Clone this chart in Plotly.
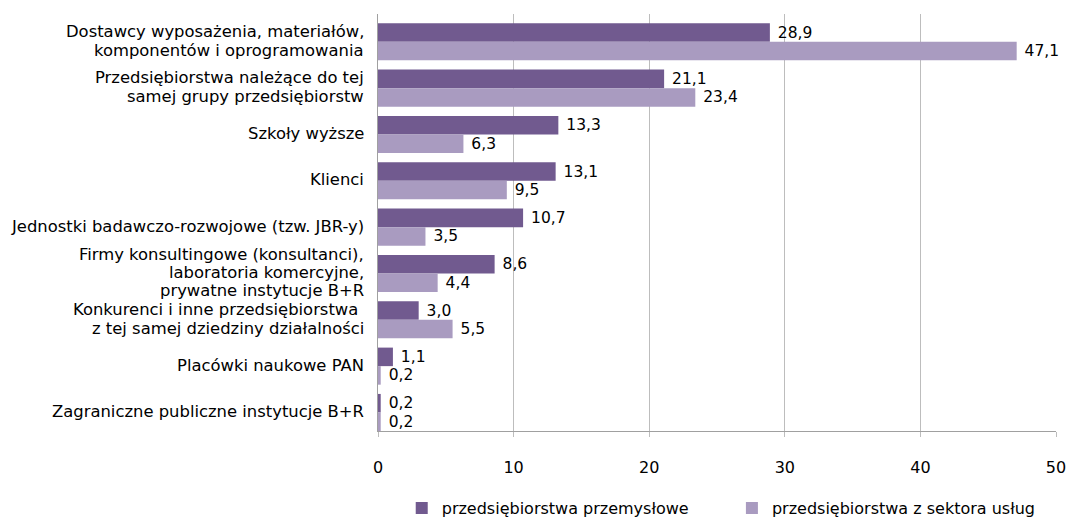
import plotly.graph_objects as go

categories = [
    "Dostawcy wyposażenia, materiałów,<br>komponentów i oprogramowania",
    "Przedsiębiorstwa należące do tej<br>samej grupy przedsiębiorstw",
    "Szkoły wyższe",
    "Klienci",
    "Jednostki badawczo-rozwojowe (tzw. JBR-y)",
    "Firmy konsultingowe (konsultanci),<br>laboratoria komercyjne,<br>prywatne instytucje B+R",
    "Konkurenci i inne przedsiębiorstwa\u00a0<br>z tej samej dziedziny działalności",
    "Placówki naukowe PAN",
    "Zagraniczne publiczne instytucje B+R",
]
przemyslowe = [28.9, 21.1, 13.3, 13.1, 10.7, 8.6, 3.0, 1.1, 0.2]
uslugi = [47.1, 23.4, 6.3, 9.5, 3.5, 4.4, 5.5, 0.2, 0.2]
series_names = ["przedsiębiorstwa przemysłowe", "przedsiębiorstwa z sektora usług"]
colors = ["#715a8f", "#a99bc0"]
x_ticks = [0, 10, 20, 30, 40, 50]

FONT = "DejaVu Sans, sans-serif"
LINE_H = 18.4

fig = go.Figure()
for name, vals, col, leg in zip(series_names, [przemyslowe, uslugi], colors, ["legend", "legend2"]):
    fig.add_trace(go.Bar(
        y=categories, x=vals, name=name, orientation="h",
        marker=dict(color=col, line=dict(width=0)),
        texttemplate=" %{x:.1f}", textposition="outside",
        textfont=dict(size=15.5, color="#000000", family=FONT),
        cliponaxis=False, legend=leg,
    ))

# category labels, one annotation per line for tight line spacing
for cat in categories:
    lines = cat.split("<br>")
    n = len(lines)
    for i, line in enumerate(lines):
        fig.add_annotation(
            x=0, xref="paper", y=cat, yref="y",
            text=line, showarrow=False, xanchor="right", yanchor="middle",
            xshift=-12, yshift=((n - 1) / 2 - i) * LINE_H + 1,
            font=dict(size=16.4, family=FONT, color="#000000"),
        )

leg_common = dict(orientation="h", yanchor="middle", y=-0.185, xanchor="left",
                  font=dict(size=16, family=FONT), itemwidth=30,
                  bgcolor="rgba(0,0,0,0)")

# the page body has an 8 px default margin, so the figure is 8 px smaller
fig.update_layout(
    width=1066, height=509,
    barmode="group", bargap=0.2, bargroupgap=0,
    separators=", ",
    plot_bgcolor="white", paper_bgcolor="white",
    margin=dict(l=370, r=18, t=6, b=86, autoexpand=False),
    font=dict(family=FONT, color="#000000"),
    showlegend=True,
    legend=dict(x=0.035, **leg_common),
    legend2=dict(x=0.522, **leg_common),
    xaxis=dict(range=[0, 50], tickvals=x_ticks, showgrid=True, gridcolor="#bdbdbd",
               gridwidth=1, zeroline=False, showline=True, linecolor="#a0a0a0",
               ticks="outside", ticklen=5, tickcolor="#bdbdbd", automargin=False,
               ticklabelstandoff=17, tickfont=dict(size=16, family=FONT)),
    yaxis=dict(range=[8.4, -0.6], showline=True, linecolor="#a0a0a0",
               showticklabels=False, ticks="", automargin=False, showgrid=False),
)

fig.write_html("out.html")
